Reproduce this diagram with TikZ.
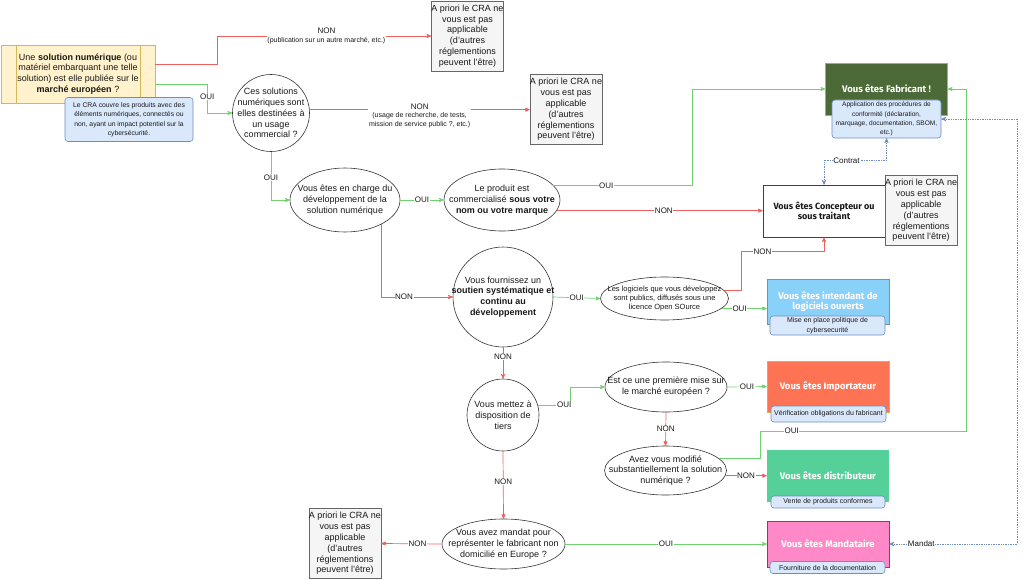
\documentclass[tikz,border=0pt]{standalone}
\usepackage{fontspec}
\setmainfont{Liberation Sans}
\newfontfamily\titlefont{Fira Sans}
\usepackage{xcolor}
\usetikzlibrary{arrows, shapes}
\definecolor{ouicol}{RGB}{110,210,110}
\definecolor{noncol}{RGB}{238,96,96}
\definecolor{notebg}{RGB}{218,232,252}
\definecolor{notebd}{RGB}{108,142,191}
\definecolor{startbg}{RGB}{255,242,204}
\definecolor{startbd}{RGB}{214,182,86}
\definecolor{nabg}{RGB}{245,245,245}
\definecolor{nabd}{RGB}{102,102,102}
\definecolor{fabbg}{RGB}{76,106,56}
\definecolor{fabbd}{RGB}{200,150,140}
\definecolor{intbg}{RGB}{138,209,250}
\definecolor{intbd}{RGB}{120,150,150}
\definecolor{impbg}{RGB}{255,115,85}
\definecolor{impbd}{RGB}{230,170,60}
\definecolor{disbg}{RGB}{84,208,152}
\definecolor{manbg}{RGB}{255,136,200}
\definecolor{manbd}{RGB}{170,50,80}
\begin{document}
\begin{tikzpicture}[x=1pt, y=-1pt]
		\tikzstyle{every node} = [font = \fontsize{9}{10.8}\selectfont, text = black!90]
		\tikzstyle{q} = [draw = black!80, line width = 0.6pt, ellipse, inner sep = 0pt]
		\tikzstyle{qtext} = [align = center, inner sep = 0pt]
		\tikzstyle{na} = [draw = nabd, fill = nabg, line width = 0.6pt, align = center, minimum width = 71pt, minimum height = 70pt, inner sep = 0pt]
		\tikzstyle{role} = [minimum width = 122pt, line width = 0.6pt, font = \titlefont\bfseries\fontsize{9.5}{10.6}\selectfont, text = white, align = center, inner sep = 0pt]
		\tikzstyle{memo} = [draw = notebd, fill = notebg, line width = 0.6pt, rounded corners = 3pt, align = center, inner sep = 0pt, font = \fontsize{7}{9.4}\selectfont]
		\tikzstyle{oui} = [draw = ouicol, line width = 0.7pt, ->, >=stealth']
		\tikzstyle{non} = [draw = noncol, line width = 0.7pt, ->, >=stealth']
		\tikzstyle{lien} = [draw = notebd, line width = 0.7pt, densely dotted, <->, >=stealth']
		\tikzstyle{lbl} = [fill = white, inner sep = 0.6pt, align = center, font = \fontsize{8}{8.5}\selectfont]
		\useasboundingbox (0,0) rectangle (1024,580);
			\node[draw = startbd, fill = startbg, line width = 0.6pt, minimum width = 154pt, minimum height = 58pt, align = center, inner sep = 0pt] (start) at (78,74)
				{Une \textbf{solution numérique} (ou\\matériel embarquant une telle\\solution) est elle publiée sur le\\\textbf{marché européen} ?};
			\path[draw, startbd, line width = 0.6pt] ([xshift = 16pt]start.north west) -- ([xshift = 16pt]start.south west);
			\path[draw, startbd, line width = 0.6pt] ([xshift = -15pt]start.north east) -- ([xshift = -15pt]start.south east);
			\node[memo, minimum width = 128pt, minimum height = 44pt, font = \fontsize{6.8}{9.5}\selectfont] (cranote) at (129,119.5)
				{Le CRA couvre les produits avec des\\éléments numériques, connectés ou\\non, ayant un impact potentiel sur la\\cybersécurité.};
			\node[q, circle, minimum size = 77pt, label = {[qtext]center:Ces solutions\\numériques sont\\elles destinées à\\un usage\\commercial ?}] (usage) at (271,113) {};
			\node[na] (na1) at (467.5,36) {A priori le CRA ne\\vous est pas\\applicable\\(d'autres\\réglementions\\peuvent l'être)};
			\node[na] (na2) at (566,109.5) {A priori le CRA ne\\vous est pas\\applicable\\(d'autres\\réglementions\\peuvent l'être)};
			\node[q, minimum width = 110pt, minimum height = 64pt, label = {[qtext]center:Vous êtes en charge du\\développement de la\\solution numérique}] (charge) at (345,200) {};
			\node[q, minimum width = 116pt, minimum height = 62pt, label = {[qtext]center:Le produit est\\commercialisé \textbf{sous votre}\\\textbf{nom ou votre marque}}] (marque) at (502,200) {};
			\node[role, fill = fabbg, draw = fabbd, minimum height = 52pt] (fab) at (886.5,89) {Vous êtes Fabricant !};
			\node[memo, minimum width = 109pt, minimum height = 38pt, font = \fontsize{6.6}{9.4}\selectfont] (fabnote) at (886.5,119)
				{Application des procédures de\\conformité (déclaration,\\marquage, documentation, SBOM,\\etc.)};
			\node[role, draw = black!75, fill = white, text = black!90, minimum height = 52pt, font = \titlefont\bfseries\fontsize{9}{10.6}\selectfont] (conc) at (824,211) {Vous êtes Concepteur ou\\sous traitant};
			\node[na] (na3) at (921,210.5) {A priori le CRA ne\\vous est pas\\applicable\\(d'autres\\réglementions\\peuvent l'être)};
			\node[q, circle, minimum size = 100pt, label = {[qtext]center:Vous fournissez un\\\textbf{soutien systématique et}\\\textbf{continu au}\\\textbf{développement}}] (soutien) at (503,297) {};
			\node[q, minimum width = 128pt, minimum height = 43pt, label = {[qtext, font = \fontsize{7.5}{9}\selectfont]center:Les logiciels que vous développez\\sont publics, diffusés sous une\\licence Open SOurce}] (libre) at (664.5,298.5) {};
			\node[role, fill = intbg, draw = intbd, minimum height = 45pt] (int) at (828,301.5) {Vous êtes intendant de\\logiciels ouverts};
			\node[memo, minimum width = 115pt, minimum height = 19pt] (intnote) at (827.5,325.5) {Mise en place politique de\\cybersecurité};
			\node[q, circle, minimum size = 72pt, label = {[qtext]center:Vous mettez à\\disposition de\\tiers}] (tiers) at (503,415) {};
			\node[q, minimum width = 122pt, minimum height = 50pt, label = {[qtext]center:Est ce une première mise sur\\le marché européen ?}] (premiere) at (666,387) {};
			\node[role, fill = impbg, draw = impbd, minimum height = 51pt] (imp) at (828,386.5) {Vous êtes Importateur};
			\node[memo, minimum width = 115pt, minimum height = 16pt] (impnote) at (828.5,414) {Vérification obligations du fabricant};
			\node[q, minimum width = 122pt, minimum height = 49pt, label = {[qtext]center:Avez vous modifié\\substantiellement la solution\\numérique ?}] (modif) at (665.5,470.5) {};
			\node[role, fill = disbg, minimum height = 52pt] (dist) at (828,476) {Vous êtes distributeur};
			\node[memo, minimum width = 114pt, minimum height = 12pt] (distnote) at (828,502) {Vente de produits conformes};
			\node[q, minimum width = 123pt, minimum height = 50pt, label = {[qtext]center:Vous avez mandat pour\\représenter le fabricant non\\domicilié en Europe ?}] (mandat) at (503.5,544) {};
			\node[na] (na4) at (345,543.5) {A priori le CRA ne\\vous est pas\\applicable\\(d'autres\\réglementions\\peuvent l'être)};
			\node[role, fill = manbg, draw = manbd, minimum height = 46pt] (mand) at (828,544) {Vous êtes Mandataire};
			\node[memo, minimum width = 115pt, minimum height = 12pt] (mandnote) at (827.5,567.5) {Fourniture de la documentation};
			\path[non] ([yshift = 10pt]start.east) -- ++(62,0) |-
				node[lbl, pos = 0.755] {NON\\{\fontsize{7}{7.5}\selectfont (publication sur un autre marché, etc.)}} (na1.west);
			\path[oui] ([yshift = -10pt]start.east) -- ++(52,0) |-
				node[lbl, pos = 0.22] {OUI} (usage.west);
			\path[non] (usage.5) --
				node[lbl, yshift = -6pt] {NON\\{\fontsize{7}{8.5}\selectfont (usage de recherche, de tests,}\\{\fontsize{7}{8.5}\selectfont mission de service public ?, etc.)}} (usage.5 -| na2.west);
			\path[oui] (usage.south) |- node[lbl, pos = 0.27] {OUI} (charge.west);
			\path[oui] (charge.east) -- node[lbl] {OUI} (marque.west);
			\path[oui] (marque.16) -- node[lbl, pos = 0.38] {OUI} ++(139,0) |- (fab.west);
			\path[non] (marque.-11) -- node[lbl, pos = 0.52] {NON} (marque.-11 -| conc.west);
			\path[lien] (fabnote.south) -- ++(0,22) -| node[lbl, pos = 0.32] {Contrat} (conc.north);
			\path[non] (charge.-34) |- node[lbl, pos = 0.66] {NON} (soutien.west);
			\path[oui] (soutien.east) -- node[lbl] {OUI} (libre.west);
			\path[non] (libre.8) -- ++(17,0) |- node[lbl, pos = 0.63] {NON} ([yshift = -14pt]conc.south) -- (conc.south);
			\path[oui] (libre.-10) -- node[lbl, pos = 0.4] {OUI} (libre.-10 -| int.west);
			\path[non] (soutien.south) -- node[lbl, pos = 0.3] {NON} (tiers.north);
			\path[oui] (tiers.16) -- node[lbl, pos = 0.82] {OUI} ++(32,0) |- (premiere.west);
			\path[oui] (premiere.east) -- node[lbl] {OUI} (imp.west);
			\path[non] (premiere.south) -- node[lbl] {NON} (modif.north);
			\path[oui] (modif.13) -- ++(42,0) -- ++(0,-27) -- node[lbl, pos = 0.15] {OUI} ++(206,0) |- (fab.east);
			\path[non] (modif.-5) -- node[lbl] {NON} (modif.-5 -| dist.west);
			\path[non] (tiers.south) -- node[lbl, pos = 0.45] {NON} (mandat.north);
			\path[non] (mandat.west) -- node[lbl, pos = 0.4] {NON} (na4.east);
			\path[oui] (mandat.east) -- node[lbl] {OUI} (mand.west);
			\path[lien] (mand.east) -- node[lbl, pos = 0.25] {Mandat} ++(128,0) |- (fabnote.east);
\end{tikzpicture}
\end{document}
